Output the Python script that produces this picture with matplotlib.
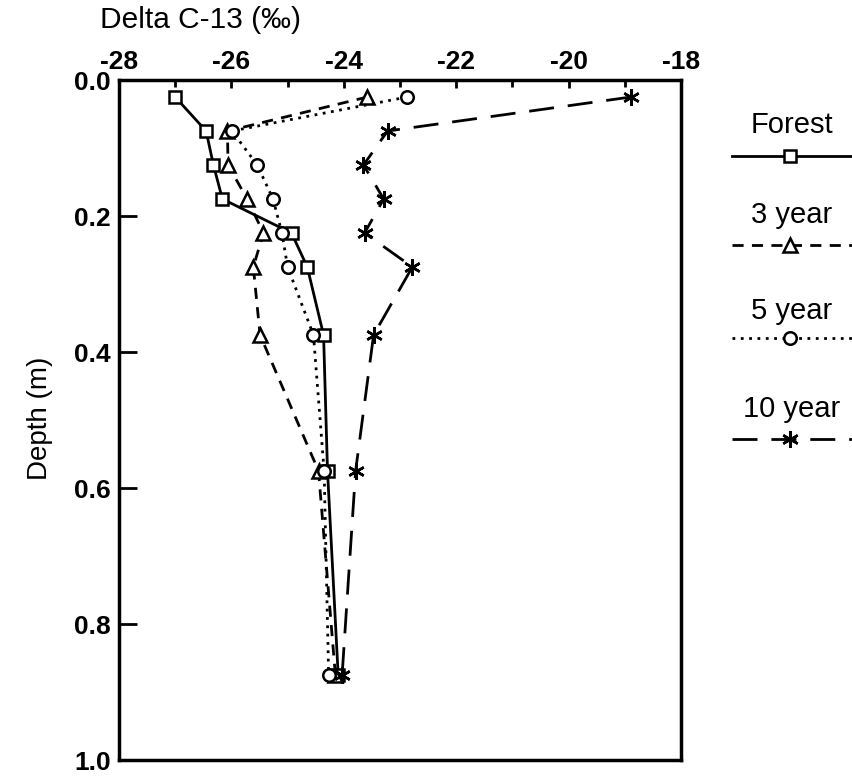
import matplotlib
matplotlib.use("Agg")
import matplotlib.pyplot as plt
from matplotlib.lines import Line2D
from matplotlib.ticker import MultipleLocator

plt.rcParams['font.family'] = ['Liberation Sans', 'DejaVu Sans']

depth = [0.025, 0.075, 0.125, 0.175, 0.225, 0.275, 0.375, 0.575, 0.875]
forest = [-27.0, -26.45, -26.32, -26.16, -24.93, -24.65, -24.36, -24.29, -24.1]
year3 = [-23.58, -26.07, -26.06, -25.72, -25.43, -25.61, -25.49, -24.45, -24.15]
year5 = [-22.87, -25.99, -25.54, -25.26, -25.1, -25.0, -24.54, -24.35, -24.27]
year10 = [-18.89, -23.22, -23.65, -23.29, -23.63, -22.78, -23.47, -23.79, -24.03]

series_names = ["Forest", "3 year", "5 year", "10 year"]
xticks = [-28, -26, -24, -22, -20, -18]
yticks = [0.0, 0.2, 0.4, 0.6, 0.8, 1.0]

W, H = 853, 778
fig = plt.figure(figsize=(W / 100, H / 100), dpi=100)
ax = fig.add_axes([119 / W, 1 - 760 / H, (681 - 119) / W, (760 - 80) / H])

styles = [
    dict(ls='-', marker='s', ms=9, mfc='white'),
    dict(ls=(0, (4, 3)), marker='^', ms=10, mfc='white'),
    dict(ls=(0, (1, 2)), marker='o', ms=9, mfc='white'),
    dict(ls=(0, (9, 5)), marker=(6, 2, 0), ms=12),
]
data = [forest, year3, year5, year10]
for vals, st in zip(data, styles):
    ax.plot(vals, depth, color='black', lw=2, mec='black', mew=1.8, **st)

ax.set_xlim(-28, -18)
ax.set_ylim(1.0, 0.0)
ax.xaxis.tick_top()
ax.set_xticks(xticks)
ax.set_xticklabels([f"{t:d}" for t in xticks], fontsize=19, fontweight='bold')
ax.xaxis.set_minor_locator(MultipleLocator(1))
ax.set_yticks(yticks)
ax.set_yticklabels([f"{t:.1f}" for t in yticks], fontsize=19, fontweight='bold')
ax.tick_params(axis='x', which='major', direction='in', length=6, width=2, pad=4)
ax.tick_params(axis='x', which='minor', direction='in', length=5, width=2)
ax.tick_params(axis='y', which='major', direction='in', length=13, width=2, pad=6)
for s in ax.spines.values():
    s.set_linewidth(2.5)

fig.text(100 / W, 1 - 20 / H, "Delta C-13 (\u2030)", fontsize=21.5, ha='left', va='center')
fig.text(40 / W, 1 - 418 / H, "Depth (m)", fontsize=20, rotation=90, ha='center', va='center')

# legend (label above sample line)
leg_text_y = [125, 215, 311, 409]
leg_line_y = [156, 245, 338, 439]
for name, st, ty, ly in zip(series_names, styles, leg_text_y, leg_line_y):
    fig.text(792 / W, 1 - ty / H, name, fontsize=21, ha='center', va='center')
    fig.add_artist(Line2D([732 / W, 853 / W], [1 - ly / H, 1 - ly / H],
                          transform=fig.transFigure, color='black', lw=2,
                          ls=st['ls']))
    mk = {k: v for k, v in st.items() if k != 'ls'}
    fig.add_artist(Line2D([790 / W], [1 - ly / H], transform=fig.transFigure,
                          color='black', lw=0, mec='black', mew=1.8, **mk))

fig.savefig("out.png", dpi=100)
